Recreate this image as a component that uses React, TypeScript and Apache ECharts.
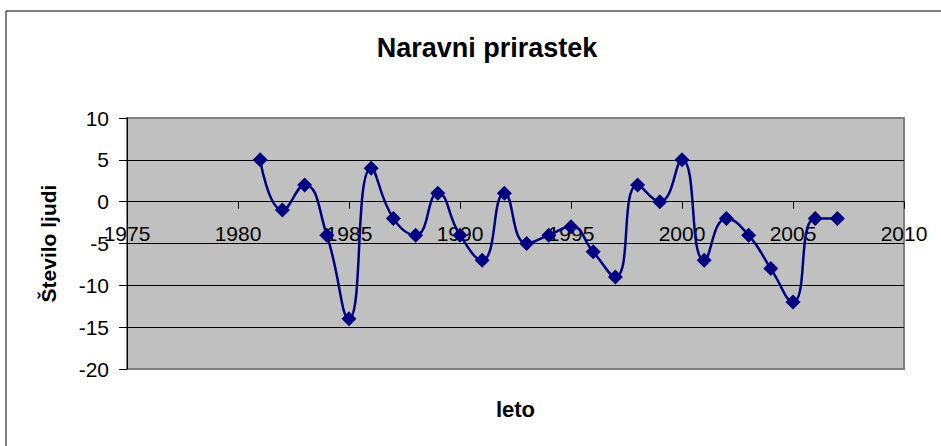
import React, { useEffect, useRef } from "react";
import * as echarts from "echarts";

const years = [1981, 1982, 1983, 1984, 1985, 1986, 1987, 1988, 1989, 1990, 1991, 1992, 1993, 1994, 1995, 1996, 1997, 1998, 1999, 2000, 2001, 2002, 2003, 2004, 2005, 2006, 2007];
const values = [5, -1, 2, -4, -14, 4, -2, -4, 1, -4, -7, 1, -5, -4, -3, -6, -9, 2, 0, 5, -7, -2, -4, -8, -12, -2, -2];

const FONT = "Liberation Sans, Arial, sans-serif";

const GRID_TOP = 118;
const GRID_BOTTOM = 77;
const CHART_H = 446;
const Y_MIN = -20;
const Y_MAX = 10;

export default function App() {
  const ref = useRef<HTMLDivElement>(null);
  useEffect(() => {
    if (!ref.current) return;
    const chart = echarts.init(ref.current, undefined, { renderer: "svg" });
    const gridH = CHART_H - GRID_TOP - GRID_BOTTOM;
    const zeroOffset = gridH * (0 - Y_MIN) / (Y_MAX - Y_MIN);
    chart.setOption({
      animation: false,
      backgroundColor: "#ffffff",
      title: {
        text: "Naravni prirastek",
        left: 482,
        top: 29,
        textAlign: "center",
        textStyle: { fontFamily: FONT, fontSize: 27, fontWeight: "bold", color: "#000" },
      },
      graphic: [
        {
          type: "rect",
          shape: { x: 6, y: 11, width: 1200, height: 1000 },
          style: { fill: "none", stroke: "#000", lineWidth: 1 },
          silent: true,
        },
      ],
      grid: {
        left: 127,
        right: 37,
        top: GRID_TOP,
        bottom: GRID_BOTTOM,
        containLabel: false,
        outerBoundsMode: "none",
        show: true,
        backgroundColor: "#C0C0C0",
        borderColor: "#808080",
        borderWidth: 2,
      },
      xAxis: {
        type: "value",
        min: 1975,
        max: 2010,
        interval: 5,
        offset: -zeroOffset,
        name: "leto",
        nameLocation: "middle",
        nameGap: 197,
        nameMoveOverlap: false,
        nameTextStyle: { fontFamily: FONT, fontSize: 22, fontWeight: "bold", color: "#000" },
        axisLine: { show: true, onZero: false, lineStyle: { color: "#000", width: 1 } },
        axisTick: { show: true, length: 7, lineStyle: { color: "#000" } },
        axisLabel: {
          fontFamily: FONT,
          fontSize: 21,
          color: "#000",
          margin: 21,
          showMinLabel: true,
          showMaxLabel: true,
          hideOverlap: false,
          formatter: (v: number) => String(v),
        },
        splitLine: { show: false },
      },
      yAxis: {
        type: "value",
        min: Y_MIN,
        max: Y_MAX,
        interval: 5,
        name: "Število ljudi",
        nameLocation: "middle",
        nameRotate: 90,
        nameGap: 68,
        nameMoveOverlap: false,
        nameTextStyle: { fontFamily: FONT, fontSize: 21, fontWeight: "bold", color: "#000" },
        axisLine: { show: true, lineStyle: { color: "#000", width: 1 } },
        axisTick: { show: true, length: 8, lineStyle: { color: "#000" } },
        axisLabel: {
          fontFamily: FONT,
          fontSize: 21,
          color: "#000",
          margin: 18,
          showMinLabel: true,
          showMaxLabel: true,
          hideOverlap: false,
        },
        splitLine: {
          show: true,
          showMinLine: false,
          showMaxLine: false,
          lineStyle: { color: "#000", width: 1 },
        },
      },
      series: [
        {
          type: "line",
          data: years.map((y, i) => [y, values[i]]),
          smooth: 0.5,
          symbol: "diamond",
          symbolSize: 15,
          itemStyle: { color: "#000080" },
          lineStyle: { color: "#000080", width: 2.5 },
        },
      ],
    });
    return () => chart.dispose();
  }, []);
  return (
    <div
      ref={ref}
      style={{ position: "fixed", left: 0, top: 0, width: 941, height: 446 }}
    />
  );
}
